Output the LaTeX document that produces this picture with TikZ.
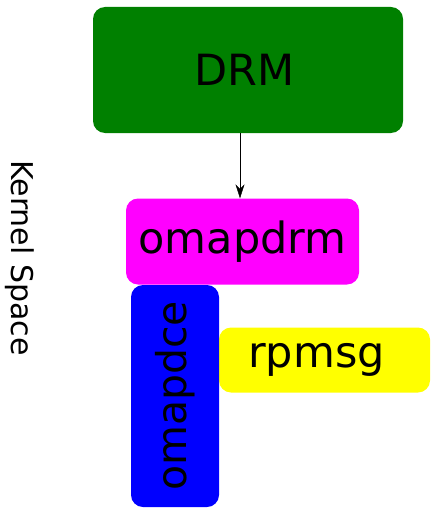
\documentclass[tikz,border=0pt]{standalone}
\usepackage{fontspec}
\setmainfont{DejaVu Sans}
\usetikzlibrary{arrows.meta}

\definecolor{drmgreen}{RGB}{0,128,0}
\definecolor{drmmagenta}{RGB}{255,0,255}
\definecolor{drmyellow}{RGB}{255,255,0}
\definecolor{drmblue}{RGB}{0,0,255}

\begin{document}
\begin{tikzpicture}[x=1pt,y=-1pt]
  \tikzset{block/.style={rounded corners=12pt, inner sep=0pt, font=\fontsize{43}{43}\selectfont}}
  \useasboundingbox (0,0) rectangle (432,508);
  \node[block, fill=drmgreen, minimum width=310pt, minimum height=126pt] (drm) at (248,70) {\raisebox{-2.5pt}{\hspace*{-7pt}DRM}};
  \node[block, fill=drmmagenta, minimum width=233pt, minimum height=86pt] (omapdrm) at (242.5,241.5) {omapdrm};
  \node[block, fill=drmyellow, minimum width=211pt, minimum height=65pt] (rpmsg) at (324.5,360) {\hspace*{-16pt}rpmsg};
  \node[block, fill=drmblue, rotate=90, minimum width=222pt, minimum height=88pt, font=\fontsize{41}{41}\selectfont] (omapdce) at (175,396) {omapdce};
  \node[rotate=-90, font=\fontsize{30}{30}\selectfont] (kernel) at (20,258) {Kernel Space};
  \draw[-{Stealth[length=14pt,width=9pt]}] ([xshift=-2.5pt]drm.south -| omapdrm.north) -- ([xshift=-2.5pt]omapdrm.north);
\end{tikzpicture}
\end{document}
